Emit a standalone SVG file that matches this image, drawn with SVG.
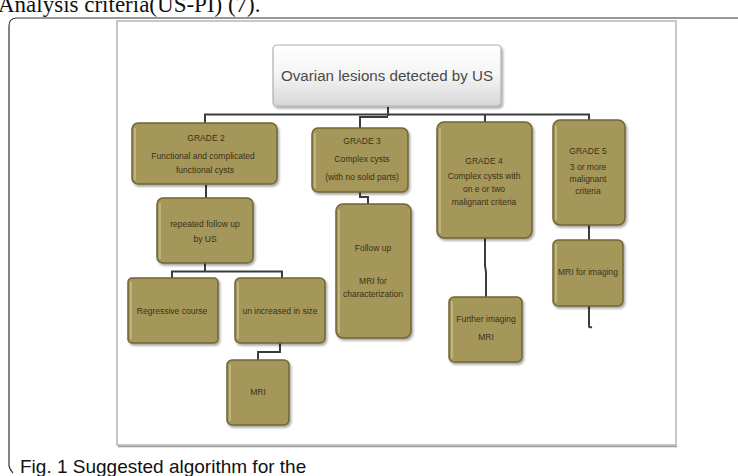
<svg xmlns="http://www.w3.org/2000/svg" width="738" height="476" viewBox="0 0 738 476">
<defs>
<style>
.box{fill:#a5975a;stroke:#6f6536;stroke-width:1.5;filter:url(#sh)}
.hl{fill:none;stroke:#d9d3a0;stroke-width:1.2;opacity:.8}
.t{font-family:"Liberation Sans",Arial,sans-serif;font-size:8.5px;fill:#3a3218;text-anchor:middle}
.c{fill:none;stroke:#3c3c3c;stroke-width:2}
</style>
<linearGradient id="wg" x1="0" y1="0" x2="0" y2="1">
<stop offset="0" stop-color="#ffffff"/><stop offset="0.5" stop-color="#f4f4f4"/><stop offset="1" stop-color="#d6d6d6"/>
</linearGradient>
<filter id="sh" x="-20%" y="-20%" width="140%" height="140%">
<feDropShadow dx="1.5" dy="2" stdDeviation="1.2" flood-color="#000" flood-opacity="0.35"/>
</filter>
</defs>
<rect width="738" height="476" fill="#ffffff"/>
<text x="-2" y="12" font-family="Liberation Serif,'Times New Roman',serif" font-size="23" fill="#111">Analysis criteria(US-PI) (7).</text>
<path d="M9 466 V26 Q9 18 17 18 H740" fill="none" stroke="#333" stroke-width="1.2"/>
<path d="M9 466 Q10 470 13 473" fill="none" stroke="#333" stroke-width="1.2"/>
<rect x="117" y="21" width="559" height="424" fill="#ffffff" stroke="#b5b5b5" stroke-width="1.5"/>
<line x1="118" y1="446.5" x2="677" y2="446.5" stroke="#9a9a9a" stroke-width="1.5"/>

<g id="connectors">
<path class="c" d="M388 107 V116"/>
<path class="c" d="M205 123 V114.5 H589 V120"/>
<path class="c" d="M360 128 V117 H388"/>
<path class="c" d="M485 114.5 V122"/>
<path class="c" d="M206 185 V198"/>
<path class="c" d="M205 263 V271 M172 278 V271.5 H282 V278"/>
<path class="c" d="M280 343 V352 H258 V360"/>
<path class="c" d="M360 192 V197 H368 V204"/>
<path class="c" d="M485 238 V266 L486 272 V297"/>
<path class="c" d="M589 225 V240"/>
<path class="c" d="M589 306 V326 Q589 328 592 327"/>
</g>

<g id="top">
<rect x="273" y="45" width="228" height="61" rx="4" fill="url(#wg)" stroke="#b0b0b0" stroke-width="1.2" filter="url(#sh)"/>
<text x="387" y="81" font-family="'Liberation Sans',Arial,sans-serif" font-size="15.5" fill="#4a4a4a" text-anchor="middle" textLength="212" lengthAdjust="spacingAndGlyphs">Ovarian lesions detected by US</text>
</g>

<g id="grade2">
<rect class="box" x="132" y="123" width="145" height="61" rx="6"/>
<line class="hl" x1="135" y1="128" x2="135" y2="180"/>
<text class="t" x="206" y="141">GRADE 2</text>
<text class="t" x="203" y="159">Functional  and complicated</text>
<text class="t" x="205" y="173">functional cysts</text>
</g>
<g id="grade3">
<rect class="box" x="312" y="128" width="96" height="64" rx="6"/>
<line class="hl" x1="315" y1="133" x2="315" y2="188"/>
<text class="t" x="362" y="144">GRADE 3</text>
<text class="t" x="362" y="162">Complex cysts</text>
<text class="t" x="362" y="180">(with no solid parts)</text>
</g>
<g id="grade4">
<rect class="box" x="437" y="122" width="95" height="116" rx="7"/>
<line class="hl" x1="440" y1="128" x2="440" y2="233"/>
<text class="t" x="484" y="164">GRADE 4</text>
<text class="t" x="484" y="179">Complex cysts with</text>
<text class="t" x="484" y="192">on e or two</text>
<text class="t" x="484" y="205">malignant criteria</text>
</g>
<g id="grade5">
<rect class="box" x="553" y="120" width="72" height="105" rx="7"/>
<line class="hl" x1="556" y1="126" x2="556" y2="220"/>
<text class="t" x="588" y="154">GRADE 5</text>
<text class="t" x="588" y="170">3 or more</text>
<text class="t" x="588" y="182">malignant</text>
<text class="t" x="588" y="194">criteria</text>
</g>
<g id="repeated">
<rect class="box" x="157" y="198" width="96" height="65" rx="6"/>
<line class="hl" x1="160" y1="203" x2="160" y2="259"/>
<text class="t" x="205" y="227">repeated follow up</text>
<text class="t" x="205" y="242">by US</text>
</g>
<g id="regressive">
<rect class="box" x="128" y="278" width="90" height="65" rx="4"/>
<line class="hl" x1="131" y1="282" x2="131" y2="339"/>
<text class="t" x="172" y="314">Regressive course</text>
</g>
<g id="increased">
<rect class="box" x="235" y="278" width="90" height="65" rx="5"/>
<line class="hl" x1="238" y1="282" x2="238" y2="339"/>
<text class="t" x="280" y="314">un increased in size</text>
</g>
<g id="mri1">
<rect class="box" x="227" y="360" width="62" height="65" rx="5"/>
<line class="hl" x1="230" y1="364" x2="230" y2="421"/>
<text class="t" x="258" y="395">MRI</text>
</g>
<g id="followup">
<rect class="box" x="336" y="204" width="75" height="134" rx="7"/>
<line class="hl" x1="339" y1="210" x2="339" y2="333"/>
<text class="t" x="373" y="251">Follow up</text>
<text class="t" x="373" y="284">MRI for</text>
<text class="t" x="373" y="297">characterization</text>
</g>
<g id="further">
<rect class="box" x="449" y="297" width="73" height="65" rx="5"/>
<line class="hl" x1="452" y1="301" x2="452" y2="358"/>
<text class="t" x="486" y="322">Further imaging</text>
<text class="t" x="486" y="340">MRI</text>
</g>
<g id="mriimaging">
<rect class="box" x="553" y="240" width="70" height="66" rx="5"/>
<line class="hl" x1="556" y1="244" x2="556" y2="302"/>
<text class="t" x="588" y="275">MRI for imaging</text>
</g>

<text x="20" y="473" font-family="'Liberation Sans',Arial,sans-serif" font-size="19" fill="#111">Fig. 1 Suggested algorithm for the</text>
</svg>
